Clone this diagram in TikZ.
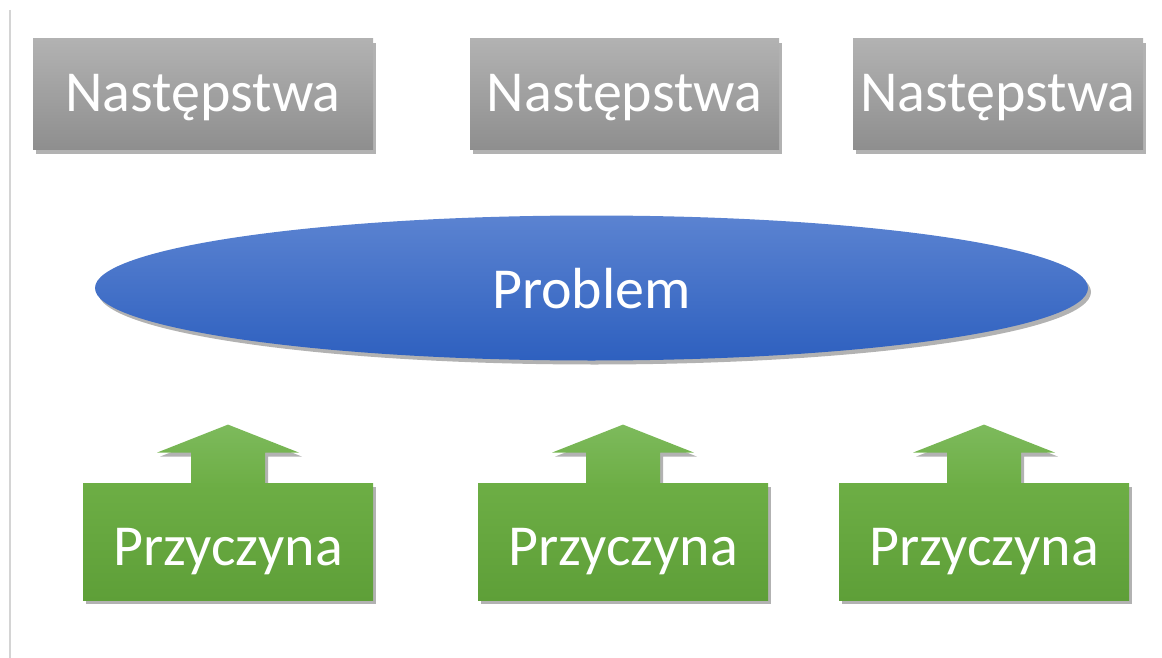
\documentclass[tikz,border=0pt]{standalone}
\usepackage{fontspec}
\setmainfont{Carlito}
\usetikzlibrary{positioning}
\usetikzlibrary{shapes.geometric}
\usetikzlibrary{shadows}
\usetikzlibrary{backgrounds}
\definecolor{mgreytop}{HTML}{B2B2B2}
\definecolor{mgreybot}{HTML}{8E8E8E}
\definecolor{mbluetop}{HTML}{5B83D1}
\definecolor{mbluebot}{HTML}{2E60BF}
\definecolor{mgreentop}{HTML}{7DBA5C}
\definecolor{mgreen}{HTML}{6DAE45}
\definecolor{mgreenbot}{HTML}{5E9F38}
\definecolor{mframe}{HTML}{D4D4D4}

\begin{document}
\begin{tikzpicture}[x=0.5pt, y=-0.5pt,
    softshadow/.style={drop shadow={shadow xshift=1.5pt, shadow yshift=-2pt, opacity=.3, fill=black}},
    label/.style={text=white, font=\fontsize{29}{33}\selectfont, inner sep=0pt},
    effect/.style={label, rectangle, softshadow, top color=mgreytop, bottom color=mgreybot,
      minimum height=55.5pt, text height=20pt, text depth=2.5pt},
    problem/.style={label, ellipse, softshadow, top color=mbluetop, bottom color=mbluebot,
      minimum width=496.5pt, minimum height=72.5pt, text height=21pt, text depth=1pt},
    cause/.style={label, rectangle, softshadow, top color=mgreen, bottom color=mgreenbot,
      minimum width=145pt, minimum height=58.5pt, text height=24pt, text depth=0.5pt},
    causearrow/.style={softshadow, top color=mgreentop, bottom color=mgreen}]
      \useasboundingbox (0,0) rectangle (1162,658);
      \draw [mframe, line width=1pt] (10,10) -- (10,658);

      \node [effect, minimum width=170pt] (e1) at (203, 94.5) {Następstwa};
      \node [effect, minimum width=154.5pt] (e2) at (624.5, 94.5) {Następstwa};
      \node [effect, minimum width=145pt] (e3) at (998, 94.5) {Następstwa};

      \node [problem] (p) at (591.5, 288) {Problem};

      \node [cause] (c1) at (228, 541.5) {Przyczyna};
      \node [cause] (c2) at (623, 541.5) {Przyczyna};
      \node [cause] (c3) at (984, 541.5) {Przyczyna};

      \begin{scope}[on background layer]
        \foreach \c in {c1, c2, c3}
          \path [causearrow] (\c.north) ++(-37,4) -- ++(0,-34) -- ++(-34,0) -- ++(71,-28)
            -- ++(71,28) -- ++(-34,0) -- ++(0,34) -- cycle;
      \end{scope}
    \end{tikzpicture}
\end{document}
